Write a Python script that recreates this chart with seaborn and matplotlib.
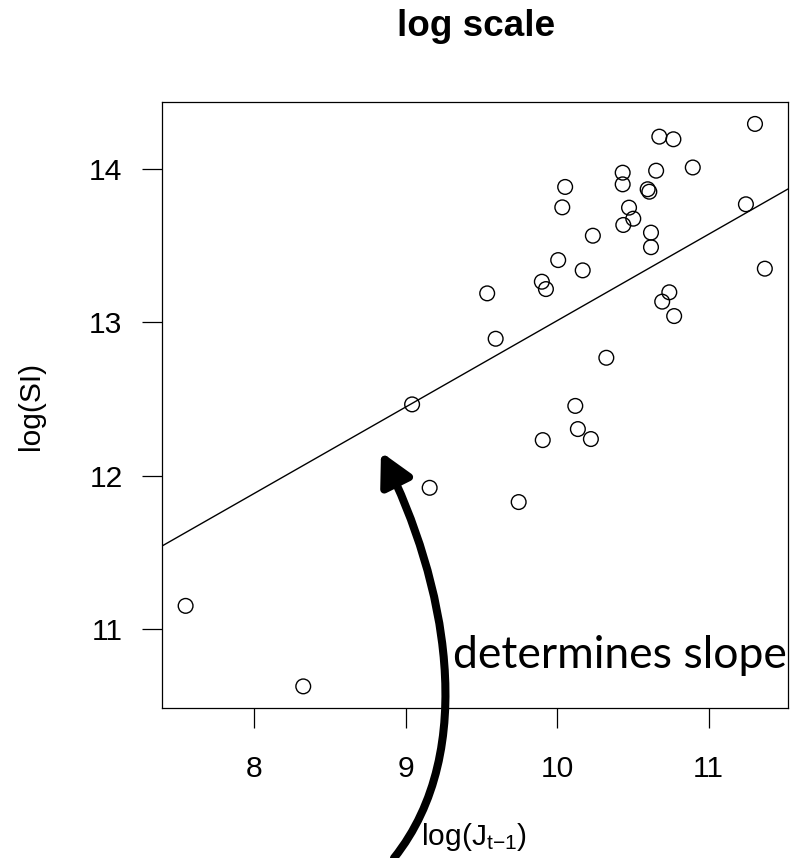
import matplotlib
matplotlib.use("Agg")
import numpy as np
import pandas as pd
import seaborn as sns
import matplotlib.pyplot as plt
from matplotlib.path import Path
from matplotlib.patches import FancyArrowPatch

# Observations: log of prior-year J against log of SI
log_j = [7.546, 8.323, 9.042, 9.158, 9.538, 9.594, 9.746, 9.899, 9.926, 9.905,
         10.007, 10.034, 10.053, 10.120, 10.137, 10.169, 10.223, 10.236, 10.325,
         10.433, 10.433, 10.437, 10.475, 10.503, 10.598, 10.609, 10.620, 10.620,
         10.654, 10.675, 10.694, 10.741, 10.768, 10.773, 10.896, 11.247, 11.307,
         11.372]
log_si = [11.151, 10.626, 12.465, 11.921, 13.189, 12.893, 11.828, 13.265, 13.217,
          12.232, 13.406, 13.750, 13.883, 12.455, 12.304, 13.339, 12.239, 13.565,
          12.769, 13.976, 13.900, 13.635, 13.748, 13.676, 13.868, 13.852, 13.585,
          13.490, 13.989, 14.211, 13.135, 13.196, 14.194, 13.041, 14.010, 13.770,
          14.294, 13.350]

# Fitted line
fit_intercept = 7.380
fit_slope = 0.5631

x_ticks = [8, 9, 10, 11]
y_ticks = [11, 12, 13, 14]

title = "log scale"
x_label = r"$\mathrm{log(J_{t{-}1})}$"
y_label = "log(SI)"
note = "determines slope"

df = pd.DataFrame({"log_j": log_j, "log_si": log_si})

sns.set_theme(style="white")
plt.rcParams["font.family"] = ["Liberation Sans", "DejaVu Sans"]
plt.rcParams["mathtext.fontset"] = "custom"
plt.rcParams["mathtext.rm"] = "Liberation Sans"
plt.rcParams["mathtext.it"] = "Liberation Sans:italic"
plt.rcParams["mathtext.bf"] = "Liberation Sans:bold"

W, H = 792, 858
fig = plt.figure(figsize=(W / 100, H / 100), dpi=100)
fig.patch.set_facecolor("white")

left, right, top, bottom = 162, 788, 102, 708
ax = fig.add_axes([left / W, 1 - bottom / H, (right - left) / W, (bottom - top) / H])
ax.set_facecolor("white")

sns.scatterplot(data=df, x="log_j", y="log_si", ax=ax, s=112, marker="o",
                facecolor="none", edgecolor="black", linewidth=1.0, zorder=3)
ax.axline((0, fit_intercept), slope=fit_slope, color="black", lw=1.0, zorder=2)

ax.set_xlim(7.390, 11.525)
ax.set_ylim(10.485, 14.437)
ax.set_xticks(x_ticks)
ax.set_yticks(y_ticks)
ax.set_xticklabels([str(t) for t in x_ticks])
ax.set_yticklabels([str(t) for t in y_ticks])
ax.set_xlabel("")
ax.set_ylabel("")

for sp in ax.spines.values():
    sp.set_visible(True)
    sp.set_color("black")
    sp.set_linewidth(0.9)

ax.tick_params(axis="both", which="major", direction="out", length=14.4,
               width=0.9, color="black", labelsize=21.6, labelcolor="black",
               bottom=True, left=True)
ax.tick_params(axis="x", pad=19.5)
ax.tick_params(axis="y", pad=14.0)

fig.text(476 / W, 1 - 36 / H, title, ha="center", va="baseline",
         fontsize=26.6, fontweight="bold", color="black")
fig.text(474 / W, 1 - 845 / H, x_label, ha="center", va="baseline",
         fontsize=21.6, color="black")
fig.text(31 / W, 1 - 406 / H, y_label, ha="center", va="center",
         rotation=90, fontsize=21.6, color="black")

# Annotation text and the curved arrow pointing to the fitted line
fig.text(453 / W, 1 - 668 / H, note, ha="left", va="baseline",
         fontsize=32, family=["Lato", "DejaVu Sans"], color="black", zorder=5)

pts = [(394, 858), (480, 750), (445, 580), (381, 452)]
verts = [(px / W, 1 - py / H) for px, py in pts]
codes = [Path.MOVETO, Path.CURVE4, Path.CURVE4, Path.CURVE4]
arrow = FancyArrowPatch(path=Path(verts, codes),
                        arrowstyle="-|>,head_length=1.9,head_width=1.0",
                        mutation_scale=10, lw=5.8, color="black",
                        transform=fig.transFigure, zorder=10)
fig.add_artist(arrow)

fig.savefig("out.png", dpi=100)
